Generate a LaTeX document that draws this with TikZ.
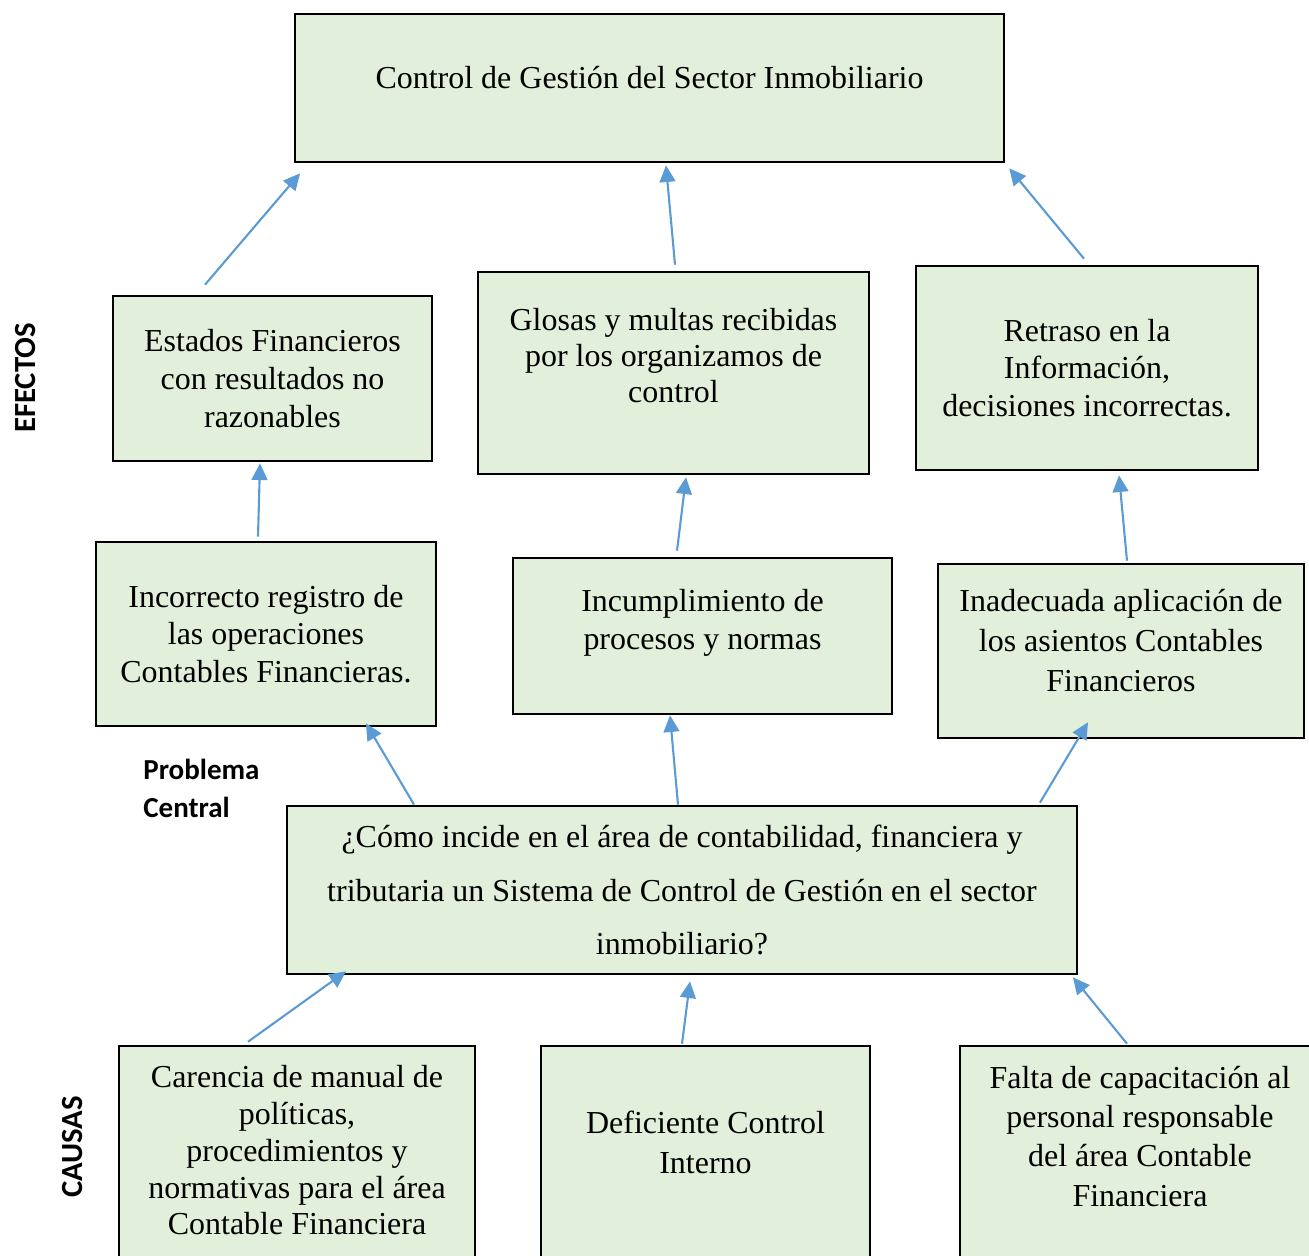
\documentclass[tikz,border=0pt]{standalone}
\usepackage{fontspec}
\setmainfont{Liberation Serif}
\newfontfamily\calibri{Carlito}
\usetikzlibrary{arrows.meta}

\definecolor{verde}{RGB}{226,239,218}
\definecolor{azul}{RGB}{91,155,213}

% extra depth under the last line, lifts the text inside its box
\newcommand{\subir}[1]{\rule[-#1]{0pt}{#1}}

\tikzset{
    caja/.style 2 args={draw=black,fill=verde,line width=1.5pt,inner sep=0pt,
        align=center,minimum width=#1,minimum height=#2,
        font=\fontsize{18.2}{21.5}\selectfont},
    flecha/.style={draw=azul,line width=1.2pt,-{Triangle[length=9.5pt,width=9pt]}},
    titulo/.style={font=\calibri\bfseries\fontsize{17.5}{21}\selectfont,rotate=90,inner sep=0pt}
}

\begin{document}
\begin{tikzpicture}[x=0.02cm,y=-0.02cm]
    \useasboundingbox (0,0) rectangle (1309,1255);
    %
    % efectos
    \node[caja={14.18cm}{2.96cm}] (top) at (649.5,88)
        {Control de Gestión del Sector Inmobiliario\subir{0.44cm}};
    \node[caja={6.38cm}{3.3cm}] (estados) at (272.5,378.5)
        {Estados Financieros\\con resultados no\\razonables};
    \node[caja={7.82cm}{4.04cm},font=\fontsize{18.2}{20.7}\selectfont] (glosas) at (673.5,373)
        {Glosas y multas recibidas\\por los organizamos de\\control\subir{0.7cm}};
    \node[caja={6.84cm}{4.08cm}] (retraso) at (1087,368)
        {Retraso en la\\Información,\\decisiones incorrectas.};
    %
    \node[caja={6.8cm}{3.68cm}] (incorrecto) at (266,634)
        {Incorrecto registro de\\las operaciones\\Contables Financieras.};
    \node[caja={7.58cm}{3.12cm}] (incumplimiento) at (702.5,636)
        {Incumplimiento de\\procesos y normas\subir{0.66cm}};
    \node[caja={7.32cm}{3.48cm},font=\fontsize{18.2}{22.7}\selectfont] (inadecuada) at (1121,651)
        {Inadecuada aplicación de\\los asientos Contables\\Financieros\subir{0.44cm}};
    %
    % problema central
    \node[caja={15.8cm}{3.36cm},font=\fontsize{18.2}{30.6}\selectfont] (central) at (682,890)
        {¿Cómo incide en el área de contabilidad, financiera y\\tributaria un Sistema de Control de Gestión en el sector\\inmobiliario?};
    %
    % causas
    \node[caja={7.12cm}{4.48cm},font=\fontsize{18.2}{21}\selectfont] (carencia) at (297,1158)
        {Carencia de manual de\\políticas,\\procedimientos y\\normativas para el área\\Contable Financiera\subir{0.32cm}};
    \node[caja={6.58cm}{4.48cm},font=\fontsize{18.2}{22.7}\selectfont] (deficiente) at (705.5,1158)
        {Deficiente Control\\Interno\subir{0.64cm}};
    \node[caja={7.2cm}{4.48cm},font=\fontsize{18.2}{22.4}\selectfont] (falta) at (1140,1158)
        {Falta de capacitación al\\personal responsable\\del área Contable\\Financiera\subir{0.88cm}};
    %
    \node[titulo] (efectos) at (26,378) {EFECTOS};
    \node[titulo] (causas) at (73,1147) {CAUSAS};
    \node[anchor=north west,inner sep=0pt,align=left,
          font=\calibri\bfseries\fontsize{16.5}{21.5}\selectfont] (problema) at (143,759)
        {Problema\\Central};
    %
    \draw[flecha] ([xshift=-1.35cm,yshift=0.2cm]estados.north) -- ([xshift=-6.99cm,yshift=-0.2cm]top.south);
    \draw[flecha] ([xshift=0.03cm,yshift=0.12cm]glosas.north) -- ([xshift=0.33cm,yshift=-0.04cm]top.south);
    \draw[flecha] ([xshift=-0.06cm,yshift=0.12cm]retraso.north) -- ([xshift=0.08cm,yshift=-0.1cm]top.south east);
    %
    \draw[flecha] ([xshift=-0.16cm,yshift=0.08cm]incorrecto.north) -- ([xshift=-0.25cm,yshift=-0.02cm]estados.south);
    \draw[flecha] ([xshift=-0.51cm,yshift=0.12cm]incumplimiento.north) -- ([xshift=0.25cm,yshift=-0.04cm]glosas.south);
    \draw[flecha] ([xshift=0.12cm,yshift=0.04cm]inadecuada.north) -- ([xshift=0.64cm,yshift=-0.08cm]retraso.south);
    %
    \draw[flecha] ([xshift=-5.36cm]central.north) -- ([xshift=2cm,yshift=0.08cm]incorrecto.south);
    \draw[flecha] ([xshift=-0.08cm]central.north) -- ([xshift=-0.65cm]incumplimiento.south);
    \draw[flecha] ([xshift=7.16cm,yshift=0.04cm]central.north) -- ([xshift=-0.66cm,yshift=0.34cm]inadecuada.south);
    %
    \draw[flecha] ([xshift=-0.98cm,yshift=0.06cm]carencia.north) -- ([xshift=-6.72cm,yshift=0.08cm]central.south);
    \draw[flecha] ([xshift=-0.47cm,yshift=0.02cm]deficiente.north) -- ([xshift=0.16cm,yshift=-0.12cm]central.south);
    \draw[flecha] ([xshift=-0.26cm,yshift=0.02cm]falta.north) -- ([xshift=7.82cm,yshift=-0.04cm]central.south);
\end{tikzpicture}
\end{document}
